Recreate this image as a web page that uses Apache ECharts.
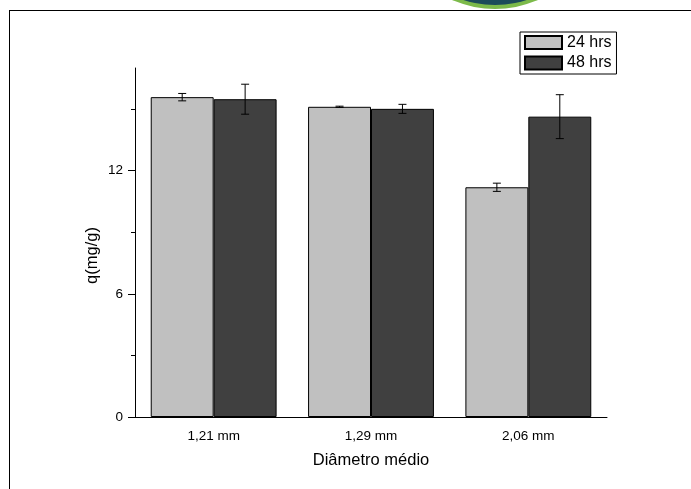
<!DOCTYPE html>
<html>
<head>
<meta charset="utf-8">
<script src="https://cdn.jsdelivr.net/npm/echarts@6/dist/echarts.min.js"></script>
<style>
  html, body { margin: 0; padding: 0; background: #fff; }
  #chart { width: 691px; height: 489px; }
</style>
</head>
<body>
<div id="chart"></div>
<script>
// diameters on the x axis
const categories = ['1,21 mm', '1,29 mm', '2,06 mm'];
const seriesNames = ['24 hrs', '48 hrs'];
// q(mg/g) means and error (half-width)
const mean24 = [15.58, 15.11, 11.19];
const err24 = [0.18, 0.03, 0.20];
const mean48 = [15.48, 15.01, 14.63];
const err48 = [0.73, 0.22, 1.07];
const yMajorTicks = [0, 6, 12];
const yMinorTicks = [3, 9, 15];

const font = '"Liberation Sans", Arial, sans-serif';

// error bar drawn at the bar center (offset is fraction of band width)
function errorBar(offset) {
  return function (params, api) {
    const x = api.value(0);
    const m = api.value(1);
    const e = api.value(2);
    const band = api.size([1, 0])[0];
    const top = api.coord([x, m + e]);
    const bot = api.coord([x, m - e]);
    const cx = top[0] + band * offset;
    const cap = 4;
    const st = { stroke: '#000', lineWidth: 1 };
    return {
      type: 'group',
      children: [
        { type: 'line', shape: { x1: cx, y1: top[1], x2: cx, y2: bot[1] }, style: st },
        { type: 'line', shape: { x1: cx - cap, y1: top[1], x2: cx + cap, y2: top[1] }, style: st },
        { type: 'line', shape: { x1: cx - cap, y1: bot[1], x2: cx + cap, y2: bot[1] }, style: st }
      ]
    };
  };
}

const chart = echarts.init(document.getElementById('chart'));
const option = {
  animation: false,
  textStyle: { fontFamily: font },
  grid: { left: 135, right: 84, top: 68, bottom: 72 },
  legend: {
    data: seriesNames,
    icon: 'rect',
    orient: 'vertical',
    left: 520,
    top: 32,
    padding: [2.5, 5, 3, 4],
    itemWidth: 37,
    itemHeight: 13,
    itemGap: 4.5,
    borderColor: '#000',
    borderWidth: 1,
    textStyle: { fontSize: 16, color: '#000', fontFamily: font, lineHeight: 16 }
  },
  xAxis: [
    {
      type: 'category',
      data: categories,
      name: 'Diâmetro médio',
      nameLocation: 'middle',
      nameGap: 35,
      nameTextStyle: { fontSize: 16.5, color: '#000', fontFamily: font },
      axisLine: { lineStyle: { color: '#000', width: 1 } },
      axisTick: { alignWithLabel: true, length: 7, lineStyle: { color: '#000' } },
      axisLabel: { fontSize: 13.5, color: '#000', margin: 12, fontFamily: font },
      splitLine: { show: false }
    },
    {
      type: 'category',
      data: categories,
      position: 'bottom',
      axisLine: { show: false },
      axisTick: { length: 4, lineStyle: { color: '#000' } },
      axisLabel: { show: false },
      splitLine: { show: false }
    }
  ],
  yAxis: [
    {
      type: 'value',
      min: 0,
      max: 17,
      interval: 3,
      name: 'q(mg/g)',
      nameLocation: 'middle',
      nameGap: 34,
      nameMoveOverlap: false,
      nameTextStyle: { fontSize: 16.5, color: '#000', fontFamily: font, padding: [0, 26, 0, 0] },
      axisLine: { show: true, lineStyle: { color: '#000', width: 1 } },
      axisTick: { show: true, length: 7, customValues: yMajorTicks, lineStyle: { color: '#000' } },
      axisLabel: { fontSize: 13.5, color: '#000', margin: 12, customValues: yMajorTicks, fontFamily: font },
      splitLine: { show: false }
    },
    {
      type: 'value',
      min: 0,
      max: 17,
      interval: 3,
      position: 'left',
      axisLine: { show: false },
      axisTick: { show: true, length: 4, customValues: yMinorTicks, lineStyle: { color: '#000' } },
      axisLabel: { show: false },
      splitLine: { show: false }
    }
  ],
  series: [
    {
      name: seriesNames[0],
      type: 'bar',
      data: mean24,
      barGap: '0%',
      barCategoryGap: '20%',
      itemStyle: { color: '#c0c0c0', borderColor: '#000', borderWidth: 1 }
    },
    {
      name: seriesNames[1],
      type: 'bar',
      data: mean48,
      barGap: '0%',
      barCategoryGap: '20%',
      itemStyle: { color: '#404040', borderColor: '#000', borderWidth: 1 }
    },
    {
      type: 'custom',
      renderItem: errorBar(-0.2),
      data: mean24.map((m, i) => [i, m, err24[i]]),
      encode: { x: 0, y: 1 },
      z: 5
    },
    {
      type: 'custom',
      renderItem: errorBar(0.2),
      data: mean48.map((m, i) => [i, m, err48[i]]),
      encode: { x: 0, y: 1 },
      z: 5
    }
  ],
  graphic: [
    { type: 'circle', shape: { cx: 495, cy: -98, r: 107 }, style: { fill: '#7cba4a' }, z: 1 },
    { type: 'circle', shape: { cx: 495, cy: -98, r: 103 }, style: { fill: '#1c4c5a' }, z: 2 },
    { type: 'line', shape: { x1: 9, y1: 10.5, x2: 691, y2: 10.5 }, style: { stroke: '#000', lineWidth: 1 }, z: 3 },
    { type: 'line', shape: { x1: 9.5, y1: 10, x2: 9.5, y2: 489 }, style: { stroke: '#000', lineWidth: 1 }, z: 3 }
  ]
};
chart.setOption(option);
</script>
</body>
</html>
